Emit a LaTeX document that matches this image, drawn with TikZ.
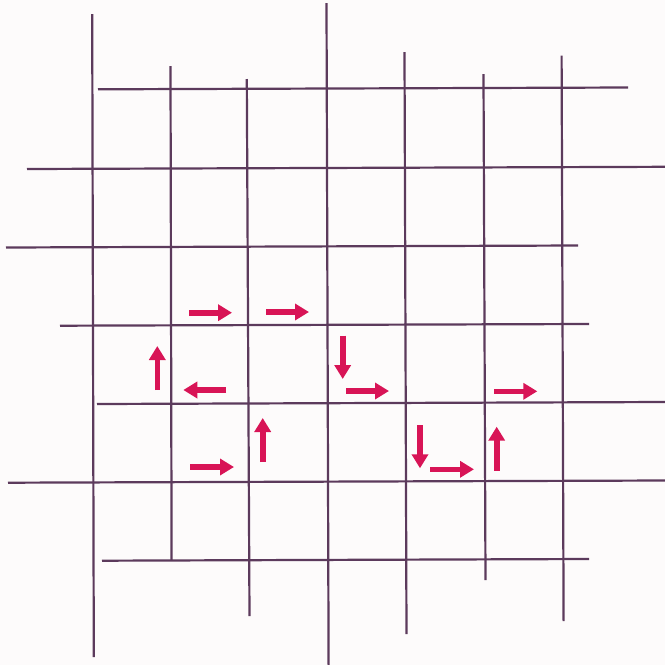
\documentclass[tikz,border=0pt]{standalone}
\usetikzlibrary{arrows.meta}
\definecolor{gridc}{RGB}{92,58,92}
\definecolor{arrc}{RGB}{216,20,86}
\definecolor{bgc}{RGB}{253,251,251}
\begin{document}
\begin{tikzpicture}[x=1pt,y=-1pt,
  gridline/.style={draw=gridc,line width=2.2pt},
  arr/.style={draw=arrc,line width=5.6pt,-{Triangle[length=14pt,width=16pt]}}]
\fill[bgc] (0,0) rectangle (665,665);
\useasboundingbox (0,0) rectangle (665,665);
% horizontal lines
\coordinate (h1a) at (98,89.3);  \coordinate (h1b) at (628,87.5);
\coordinate (h2a) at (27,169);   \coordinate (h2b) at (665,166.8);
\coordinate (h3a) at (6,247.5);  \coordinate (h3b) at (578,245.5);
\coordinate (h4a) at (60,325.7); \coordinate (h4b) at (589,324);
\coordinate (h5a) at (97,404);   \coordinate (h5b) at (665,402);
\coordinate (h6a) at (8,482.7);  \coordinate (h6b) at (665,480.5);
\coordinate (h7a) at (102,560.7);\coordinate (h7b) at (589,559);
\foreach \i in {1,...,7} \draw[gridline] (h\i a) -- (h\i b);
% vertical lines
\coordinate (v1a) at (92.2,14);   \coordinate (v1b) at (93.8,657);
\coordinate (v2a) at (170.5,66);  \coordinate (v2b) at (171.6,560.5);
\coordinate (v3a) at (246.8,79);  \coordinate (v3b) at (249.5,616);
\coordinate (v4a) at (326.5,3);   \coordinate (v4b) at (328.6,665);
\coordinate (v5a) at (404.5,52);  \coordinate (v5b) at (406.5,634);
\coordinate (v6a) at (483.5,74);  \coordinate (v6b) at (485.5,580);
\coordinate (v7a) at (561.6,55.5);\coordinate (v7b) at (563.6,621);
\foreach \i in {1,...,7} \draw[gridline] (v\i a) -- (v\i b);
% arrows
\coordinate (a1t) at (189,312.7);  \coordinate (a1h) at (232,312.7);
\coordinate (a2t) at (266,312);    \coordinate (a2h) at (309,312);
\coordinate (a3t) at (157.3,390);  \coordinate (a3h) at (157.3,346);
\coordinate (a4t) at (226,390);    \coordinate (a4h) at (183.3,390);
\coordinate (a5t) at (262.7,462);  \coordinate (a5h) at (262.7,418);
\coordinate (a6t) at (190,467);    \coordinate (a6h) at (234,467);
\coordinate (a7t) at (342.7,335.7);\coordinate (a7h) at (342.7,379);
\coordinate (a8t) at (346,391);    \coordinate (a8h) at (389,391);
\coordinate (a9t) at (494,391.3);  \coordinate (a9h) at (537.3,391.3);
\coordinate (a10t) at (420,425);   \coordinate (a10h) at (420,468.3);
\coordinate (a11t) at (430,469.3); \coordinate (a11h) at (474,469.3);
\coordinate (a12t) at (496.7,470.7);\coordinate (a12h) at (496.7,426.7);
\foreach \i in {1,...,12} \draw[arr] (a\i t) -- (a\i h);
\end{tikzpicture}
\end{document}
